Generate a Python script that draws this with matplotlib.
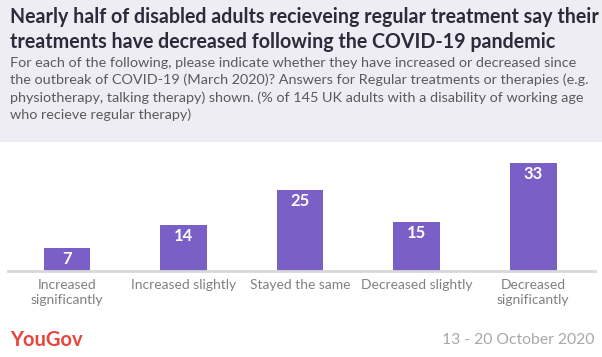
"""YouGov bar chart: change in regular treatments after COVID-19."""

import matplotlib
matplotlib.use("Agg")
import matplotlib.pyplot as plt
from matplotlib.patches import Rectangle

categories = [
    "Increased\nsignificantly",
    "Increased slightly",
    "Stayed the same",
    "Decreased slightly",
    "Decreased\nsignificantly",
]
values = [7, 14, 25, 15, 33]

title = ("Nearly half of disabled adults recieveing regular treatment say their\n"
         "treatments have decreased following the COVID-19 pandemic")
subtitle = ("For each of the following, please indicate whether they have increased or decreased since\n"
            "the outbreak of COVID-19 (March 2020)? Answers for Regular treatments or therapies (e.g.\n"
            "physiotherapy, talking therapy) shown. (% of 145 UK adults with a disability of working age\n"
            "who recieve regular therapy)")
date_text = "13 - 20 October 2020"

W, H = 602, 357
BAR = "#7a5fc6"
FONT = ["Lato", "DejaVu Sans"]

plt.rcParams["font.family"] = FONT

fig = plt.figure(figsize=(W / 100, H / 100), dpi=100)
fig.patch.set_facecolor("white")

# header band
fig.patches.append(Rectangle((0, 1 - 142 / H), 1, 142 / H, transform=fig.transFigure,
                             facecolor="#efedf4", edgecolor="none", zorder=0))

fig.text(10 / W, 1 - 7 / H, title, ha="left", va="top", fontsize=14.1,
         fontweight="bold", color="#2b2b3a", linespacing=1.3)
fig.text(10 / W, 1 - 57 / H, subtitle, ha="left", va="top", fontsize=10.4,
         color="#5a5a5a", linespacing=1.45)

# plot area in pixels
left, right, top, base = 8, 595, 150, 271
ax = fig.add_axes([left / W, 1 - base / H, (right - left) / W, (base - top) / H])
ax.set_facecolor("none")
x = list(range(len(values)))
bars = ax.bar(x, values, width=0.4, color=BAR, zorder=2)
ax.set_xlim(-0.506, 4.53)
ax.set_ylim(0, (base - top) / 3.26)

for b, v in zip(bars, values):
    ax.annotate(str(v), (b.get_x() + b.get_width() / 2, v), xytext=(0, -11),
                textcoords="offset pixels", ha="center", va="center",
                fontsize=12, fontweight="bold", color="white", zorder=3)

for s in ["top", "left", "right"]:
    ax.spines[s].set_visible(False)
ax.spines["bottom"].set_color("#d8d8d8")
ax.spines["bottom"].set_linewidth(2)
ax.set_yticks([])
ax.set_xticks(x)
ax.set_xticklabels(categories, fontsize=10, color="#808080", linespacing=1.3)
ax.tick_params(axis="x", length=0, pad=6)

# footer
fig.text(10 / W, 1 - 340 / H, "YouGov", ha="left", va="center", fontsize=14.5,
         fontweight="bold", color="#e8453c")
fig.text(594 / W, 1 - 340 / H, date_text, ha="right", va="center", fontsize=11.3,
         color="#a8a8a8")

fig.savefig("out.png", dpi=100)
